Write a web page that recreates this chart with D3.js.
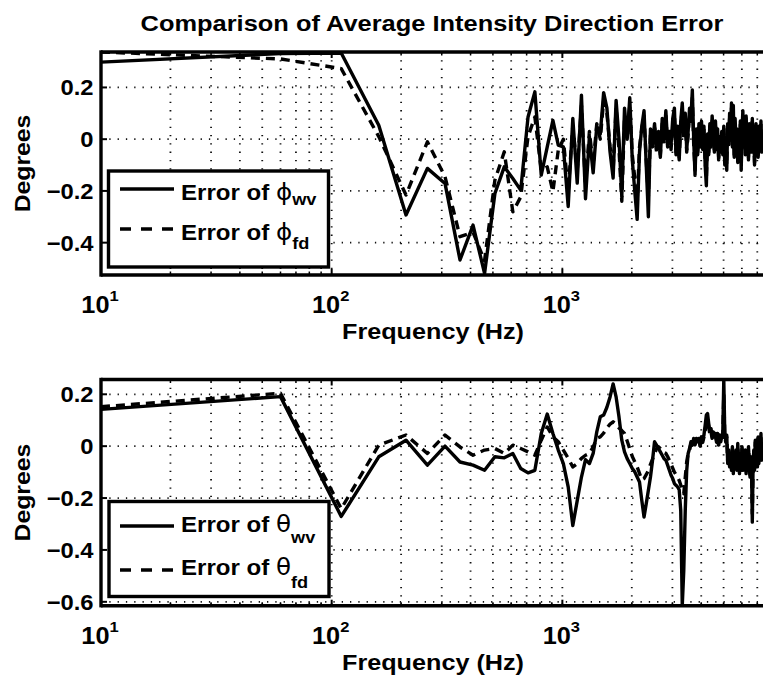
<!DOCTYPE html>
<html>
<head>
<meta charset="utf-8">
<script src="https://cdn.jsdelivr.net/npm/d3@7"></script>
<style>
  html, body { margin: 0; padding: 0; background: #fff; }
  svg { display: block; }
  text { font-family: "Liberation Sans", Arial, Helvetica, sans-serif; font-weight: bold; fill: #000; }
</style>
</head>
<body>
<svg id="chart" width="763" height="679"></svg>
<script>
// ---------------- data ----------------
const titleText = "Comparison of Average Intensity Direction Error";
const xLabelText = "Frequency (Hz)";
const yLabelText = "Degrees";
const freqs = d3.range(10, 7411, 50); // sampling grid: 10, 60, 110, ... 7410 Hz
const xTickValues = [10, 100, 1000];
const xTickExponents = ["1", "2", "3"];
const topYTicks = [0.2, 0, -0.2, -0.4];
const bottomYTicks = [0.2, 0, -0.2, -0.4, -0.6];
const topYLabels = ["0.2", "0", "\u22120.2", "\u22120.4"];
const bottomYLabels = ["0.2", "0", "\u22120.2", "\u22120.4", "\u22120.6"];

const phiWv = [
  0.298, 0.331, 0.333, 0.054, -0.293, -0.113, -0.171, -0.467, -0.332, -0.519, -0.21,
  -0.107, -0.152, -0.197, 0.086, 0.183, -0.139, -0.03, 0.073, -0.023, -0.03,
  -0.26, 0.08, -0.17, 0.17, -0.23, 0.01, -0.13, 0.05, 0.02, 0.18,
  0.12, -0.05, -0.15, 0.15, 0.0, -0.22, 0.12, 0.0, 0.16, -0.08,
  -0.2, -0.31, -0.05, 0.05, 0.11, -0.1, -0.3, 0.04, -0.02, 0.06,
  -0.04, 0.03, -0.07, 0.08, 0.0, 0.11, -0.02, 0.03, -0.02, 0.08,
  0.12, -0.06, 0.05, -0.08, 0.07, 0.14, 0.02, 0.1, -0.04, 0.03,
  0.12, 0.08, 0.19, 0.0, -0.14, 0.04, -0.06, 0.06, -0.02, 0.07,
  -0.03, 0.05, -0.1, -0.18, 0.02, -0.06, 0.06, -0.02, 0.09, 0.02,
  -0.05, 0.07, -0.03, 0.04, -0.08, 0.01, -0.05, 0.03, -0.06, 0.05,
  -0.1, 0.0, -0.12, 0.06, -0.02, 0.1, 0.01, 0.14, -0.03, 0.13,
  -0.07, 0.08, -0.01, 0.04, -0.09, 0.02, -0.04, 0.07, -0.12, 0.03,
  0.11, -0.02, 0.05, -0.06, 0.09, -0.01, 0.03, -0.08, 0.06, -0.03,
  0.02, -0.05, 0.08, -0.02, 0.04, -0.1, 0.01, 0.06, -0.04, 0.03,
  -0.07, 0.05, 0.0, -0.03, 0.07, -0.05, 0.02, -0.02
];
const phiFd = [
  0.337, 0.31, 0.273, 0.01, -0.216, -0.01, -0.145, -0.377, -0.36, -0.47, -0.158,
  -0.049, -0.281, -0.223, 0.01, 0.086, -0.12, -0.107, -0.203, -0.042, 0.0,
  -0.2, 0.05, -0.12, 0.13, -0.18, 0.03, -0.1, 0.06, 0.0, 0.15,
  0.1, -0.03, -0.12, 0.12, -0.04, -0.24, 0.08, 0.02, 0.13, -0.06,
  -0.15, -0.25, -0.03, 0.04, 0.09, -0.08, -0.22, 0.02, -0.03, 0.05,
  -0.05, 0.02, -0.06, 0.06, -0.01, 0.09, -0.03, 0.02, -0.04, 0.06,
  0.1, -0.05, 0.03, -0.07, 0.05, 0.12, 0.0, 0.08, -0.05, 0.02,
  0.1, 0.06, 0.16, -0.02, -0.12, 0.03, -0.05, 0.05, -0.03, 0.05,
  -0.04, 0.04, -0.08, -0.15, 0.0, -0.05, 0.05, -0.03, 0.07, 0.01,
  -0.04, 0.06, -0.04, 0.03, -0.07, 0.0, -0.04, 0.02, -0.05, 0.04,
  -0.08, 0.01, -0.1, 0.05, -0.03, 0.08, 0.0, 0.12, -0.02, 0.11,
  -0.06, 0.07, -0.02, 0.03, -0.08, 0.01, -0.03, 0.06, -0.1, 0.02,
  0.09, -0.03, 0.04, -0.05, 0.08, -0.02, 0.02, -0.07, 0.05, -0.02,
  0.01, -0.04, 0.07, -0.03, 0.03, -0.09, 0.0, 0.05, -0.03, 0.02,
  -0.06, 0.04, -0.01, -0.02, 0.06, -0.04, 0.01, -0.01
];
const thetaWv = [
  0.142, 0.191, -0.271, -0.041, 0.023, -0.073, 0.0, -0.061, -0.073, -0.093, -0.041,
  -0.045, -0.028, -0.086, -0.103, -0.093, 0.049, 0.124, 0.049, -0.015, -0.067,
  -0.157, -0.306, -0.21, -0.119, -0.052, -0.067, -0.028, 0.055, 0.113, 0.12,
  0.15, 0.19, 0.24, 0.19, 0.113, 0.023, -0.022, -0.048, -0.067, -0.086,
  -0.099, -0.119, -0.138, -0.209, -0.273, -0.222, -0.17, -0.119, -0.054, 0.017,
  0.004, -0.009, -0.022, -0.035, -0.048, -0.054, -0.073, -0.093, -0.112, -0.125,
  -0.144, -0.151, -0.157, -0.168, -0.248, -0.615, -0.48, -0.248, -0.093, -0.028,
  -0.009, 0.017, 0.004, 0.03, 0.01, 0.03, 0.017, 0.03, 0.004, 0.036,
  0.023, 0.043, 0.081, 0.12, 0.126, 0.088, 0.055, 0.068, 0.036, 0.055,
  0.036, 0.049, 0.023, 0.049, 0.004, 0.043, 0.017, 0.036, 0.049, 0.255,
  0.049, 0.023, 0.042, -0.067, -0.015, -0.08, -0.028, -0.093, -0.002, -0.106,
  -0.041, -0.08, -0.015, -0.093, 0.01, -0.067, -0.106, -0.028, -0.087, -0.002,
  -0.093, -0.041, -0.08, -0.015, -0.106, -0.054, -0.093, -0.002, -0.067, -0.119,
  -0.041, -0.093, -0.293, -0.08, -0.015, -0.093, 0.023, -0.054, -0.002, -0.08,
  0.036, -0.067, 0.01, -0.041, 0.049, -0.054, 0.01, -0.028
];
const thetaFd = [
  0.152, 0.204, -0.241, 0.004, 0.043, -0.028, 0.043, -0.003, -0.035, -0.015, -0.009,
  -0.028, 0.004, -0.009, -0.022, -0.035, 0.023, 0.074, 0.036, 0.017, -0.015,
  -0.047, -0.08, -0.067, -0.047, -0.035, -0.028, -0.003, 0.03, 0.036, 0.05,
  0.07, 0.085, 0.094, 0.085, 0.07, 0.06, 0.049, 0.02, -0.01, -0.04,
  -0.06, -0.08, -0.105, -0.13, -0.125, -0.11, -0.093, -0.07, -0.05, -0.03,
  -0.01, -0.002, -0.01, -0.02, -0.025, -0.028, -0.04, -0.054, -0.07, -0.085,
  -0.1, -0.11, -0.12, -0.132, -0.15, -0.17, -0.183, -0.12, -0.06, -0.028,
  -0.015, 0.01, 0.0, 0.02, 0.005, 0.025, 0.01, 0.02, 0.0, 0.03,
  0.015, 0.035, 0.06, 0.09, 0.1, 0.075, 0.045, 0.055, 0.03, 0.045,
  0.03, 0.04, 0.015, 0.04, 0.0, 0.035, 0.01, 0.03, 0.04, 0.2,
  0.04, 0.015, 0.035, -0.06, -0.02, -0.07, -0.035, -0.085, -0.01, -0.095,
  -0.045, -0.07, -0.02, -0.085, 0.0, -0.06, -0.095, -0.035, -0.08, -0.01,
  -0.085, -0.045, -0.07, -0.02, -0.095, -0.05, -0.085, -0.01, -0.06, -0.11,
  -0.045, -0.085, -0.26, -0.075, -0.02, -0.085, 0.015, -0.05, -0.01, -0.075,
  0.03, -0.06, 0.0, -0.045, 0.04, -0.05, 0.005, -0.03
];

// ---------------- drawing ----------------
const svg = d3.select("#chart");
const X0 = 101, X1 = 763;
const TXT_SX = 1.1;

function stext(parent, x, y, str, opts) {
  opts = opts || {};
  const g = parent.append("g")
    .attr("transform", `translate(${x},${y})` + (opts.rotate ? ` rotate(${opts.rotate})` : "") + ` scale(${opts.sx || TXT_SX},1)`);
  const t = g.append("text")
    .attr("text-anchor", opts.anchor || "start")
    .style("font-size", (opts.size || 22) + "px")
    .text(str);
  return t;
}

const panels = [
  { top: 52, bottom: 275, yDomain: [-0.525, 0.337], ticks: topYTicks, tickLabels: topYLabels,
    wv: phiWv, fd: phiFd, greek: "\u03D5",
    legend: { x0: 108.5, x1: 328.5, y0: 171, y1: 267, l1: 189, l2: 229, b1: 200, b2: 239.5, s1: 5, s2: 9 } },
  { top: 379.5, bottom: 605.7, yDomain: [-0.615, 0.257], ticks: bottomYTicks, tickLabels: bottomYLabels,
    wv: thetaWv, fd: thetaFd, greek: "\u03B8",
    legend: { x0: 109, x1: 329, y0: 501.5, y1: 596.5, l1: 526, l2: 570, b1: 531.5, b2: 575, s1: 11, s2: 13 } }
];

const minorTicks = [];
[10, 100, 1000].forEach(d => { for (let m = 1; m <= 9; m++) { const v = d * m; if (v <= 7410) minorTicks.push(v); } });

panels.forEach((p, pi) => {
  const x = d3.scaleLog().domain([10, 7410]).range([X0, X1]);
  const y = d3.scaleLinear().domain(p.yDomain).range([p.bottom, p.top]);
  const g = svg.append("g");

  const clipId = "clip" + pi;
  svg.append("defs").append("clipPath").attr("id", clipId)
    .append("rect").attr("x", X0).attr("y", p.top).attr("width", X1 - X0 + 5).attr("height", p.bottom - p.top);

  // grid
  const grid = g.append("g").attr("stroke", "#111").attr("stroke-width", 1.8).attr("stroke-dasharray", "1.3,7");
  grid.selectAll("line.v").data(minorTicks.filter(v => v > 10)).enter().append("line")
    .attr("x1", d => x(d)).attr("x2", d => x(d)).attr("y1", p.top).attr("y2", p.bottom);
  grid.selectAll("line.h").data(p.ticks).enter().append("line")
    .attr("x1", X0).attr("x2", X1).attr("y1", d => y(d)).attr("y2", d => y(d));

  // data lines
  const line = d3.line().x(d => x(d[0])).y(d => y(d[1]));
  const wvData = p.wv.map((v, i) => [freqs[i], v]).filter(d => d[0] !== undefined);
  const fdData = p.fd.map((v, i) => [freqs[i], v]).filter(d => d[0] !== undefined);
  const lines = g.append("g").attr("clip-path", `url(#${clipId})`);
  lines.append("path").datum(wvData).attr("d", line)
    .attr("fill", "none").attr("stroke", "#000").attr("stroke-width", 3.4).attr("stroke-linejoin", "round");
  lines.append("path").datum(fdData).attr("d", line)
    .attr("fill", "none").attr("stroke", "#000").attr("stroke-width", 3.4).attr("stroke-dasharray", "9,6").attr("stroke-linejoin", "round");

  // axes frame (right edge is outside the picture)
  const ax = g.append("g").attr("stroke", "#000");
  ax.append("line").attr("x1", X0).attr("x2", X1 + 2).attr("y1", p.top).attr("y2", p.top).attr("stroke-width", 3.4);
  ax.append("line").attr("x1", X0).attr("x2", X1 + 2).attr("y1", p.bottom).attr("y2", p.bottom).attr("stroke-width", 3.4);
  ax.append("line").attr("x1", X0).attr("x2", X0).attr("y1", p.top - 1.7).attr("y2", p.bottom + 1.7).attr("stroke-width", 3.4);

  // ticks
  ax.selectAll("line.ymt").data(p.ticks).enter().append("line")
    .attr("x1", X0).attr("x2", X0 + 6).attr("y1", d => y(d)).attr("y2", d => y(d)).attr("stroke-width", 2);
  ax.selectAll("line.xmt").data(xTickValues).enter().append("line")
    .attr("x1", d => x(d)).attr("x2", d => x(d)).attr("y1", p.bottom).attr("y2", p.bottom - 6).attr("stroke-width", 2);
  ax.selectAll("line.xmt2").data(xTickValues).enter().append("line")
    .attr("x1", d => x(d)).attr("x2", d => x(d)).attr("y1", p.top).attr("y2", p.top + 6).attr("stroke-width", 2);
  const mt = minorTicks.filter(v => xTickValues.indexOf(v) < 0);
  ax.selectAll("line.xmn").data(mt).enter().append("line")
    .attr("x1", d => x(d)).attr("x2", d => x(d)).attr("y1", p.bottom).attr("y2", p.bottom - 3.5).attr("stroke-width", 1.5);
  ax.selectAll("line.xmn2").data(mt).enter().append("line")
    .attr("x1", d => x(d)).attr("x2", d => x(d)).attr("y1", p.top).attr("y2", p.top + 3.5).attr("stroke-width", 1.5);

  // y tick labels
  p.ticks.forEach((v, i) => {
    stext(g, 93.5, y(v) + 8, p.tickLabels[i], { anchor: "end", size: 22, sx: 1.08 });
  });
  // x tick labels 10^n
  xTickValues.forEach((v, i) => {
    const gg = g.append("g").attr("transform", `translate(${x(v) - 1},${p.bottom + 38}) scale(1.1,1)`);
    const t = gg.append("text").attr("text-anchor", "middle").style("font-size", "23px");
    t.append("tspan").text("10");
    t.append("tspan").attr("dy", -12).style("font-size", "15px").text(xTickExponents[i]);
  });
  // x label
  stext(g, 433, p.bottom + 64, xLabelText, { anchor: "middle", size: 22.5, sx: 1.12 });
  // y label
  stext(g, 30, (p.top + p.bottom) / 2, yLabelText, { anchor: "middle", size: 22.5, sx: 1.1, rotate: -90 });

  // legend
  const L = p.legend;
  const lg = g.append("g");
  lg.append("rect").attr("x", L.x0).attr("y", L.y0).attr("width", L.x1 - L.x0).attr("height", L.y1 - L.y0)
    .attr("fill", "#fff").attr("stroke", "#000").attr("stroke-width", 3.4);
  lg.append("line").attr("x1", 120).attr("x2", 174).attr("y1", L.l1).attr("y2", L.l1)
    .attr("stroke", "#000").attr("stroke-width", 3.4);
  lg.append("line").attr("x1", 120).attr("x2", 174).attr("y1", L.l2).attr("y2", L.l2)
    .attr("stroke", "#000").attr("stroke-width", 3.4).attr("stroke-dasharray", "11,10");
  [["wv", L.b1, L.s1], ["fd", L.b2, L.s2]].forEach(([sub, base, sdy]) => {
    const gg = lg.append("g").attr("transform", `translate(181,${base}) scale(1.07,1)`);
    const t = gg.append("text").style("font-size", "22.5px");
    t.append("tspan").text("Error of ");
    t.append("tspan").style("font-family", "'DejaVu Sans', sans-serif").style("font-weight", "normal")
      .style("font-size", "23px").text(p.greek);
    t.append("tspan").attr("dy", sdy).style("font-size", "17px").text(sub);
  });
});

// title
stext(svg, 432, 30.5, titleText, { anchor: "middle", size: 22.5, sx: 1.13 });
</script>
</body>
</html>
